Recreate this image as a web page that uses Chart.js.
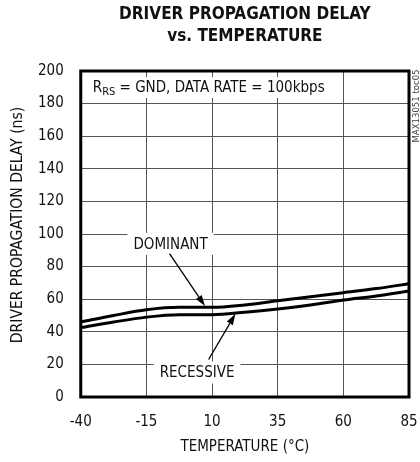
<!DOCTYPE html>
<html>
<head>
<meta charset="utf-8">
<script src="https://cdn.jsdelivr.net/npm/chart.js@4/dist/chart.umd.min.js"></script>
<style>
  html, body { margin: 0; padding: 0; background: #fff; }
  #wrap { width: 420px; height: 462px; position: relative; }
</style>
</head>
<body>
<div id="wrap"><canvas id="chart"></canvas></div>
<script>
const FONT = '"Liberation Sans Narrow", "DejaVu Sans Condensed", "Roboto", sans-serif';

const temps = [-40, -27.5, -15, -2.5, 10, 22.5, 35, 47.5, 60, 72.5, 85];
const dominant = [46, 50, 53.5, 55, 55, 56.5, 59, 61.5, 64, 66.5, 69.5];
const recessive = [42.5, 46, 49, 50.5, 50.5, 52, 54, 56.5, 59.5, 62, 65];

const xTicks = [-40, -15, 10, 35, 60, 85];
const yTicks = [0, 20, 40, 60, 80, 100, 120, 140, 160, 180, 200];

const titleLines = ["DRIVER PROPAGATION DELAY", "vs. TEMPERATURE"];
const xTitle = "TEMPERATURE (°C)";
const yTitle = "DRIVER PROPAGATION DELAY (ns)";

// callouts, in data units
const callouts = [
  { text: "DOMINANT", x: -5.8, y: 94, from: [-6.2, 88], to: [7.3, 55.8] },
  { text: "RECESSIVE", x: 4.3, y: 15, from: [8.7, 23], to: [18.9, 51] },
];

const toPoints = (ys) => ys.map((y, i) => ({ x: temps[i], y }));

function arrow(ctx, x1, y1, x2, y2) {
  const a = Math.atan2(y2 - y1, x2 - x1);
  const len = 11, half = 3.5;
  const bx = x2 - len * Math.cos(a), by = y2 - len * Math.sin(a);
  ctx.beginPath();
  ctx.moveTo(x1, y1);
  ctx.lineTo(bx, by);
  ctx.lineWidth = 1.3;
  ctx.strokeStyle = "#000";
  ctx.stroke();
  ctx.beginPath();
  ctx.moveTo(x2, y2);
  ctx.lineTo(bx - half * Math.sin(a), by + half * Math.cos(a));
  ctx.lineTo(bx + half * Math.sin(a), by - half * Math.cos(a));
  ctx.closePath();
  ctx.fillStyle = "#000";
  ctx.fill();
}

const decor = {
  id: "decor",
  afterDatasetsDraw(chart) {
    const { ctx, chartArea: a, scales } = chart;
    const sx = scales.x, sy = scales.y;
    const cx = (a.left + a.right) / 2;
    ctx.save();

    // frame
    ctx.lineWidth = 3;
    ctx.strokeStyle = "#000";
    ctx.strokeRect(a.left, a.top, a.right - a.left, a.bottom - a.top);

    // title
    ctx.fillStyle = "#111";
    ctx.textAlign = "center";
    ctx.textBaseline = "middle";
    ctx.font = "bold 17px " + FONT;
    ctx.fillText(titleLines[0], cx, 15);
    ctx.fillText(titleLines[1], cx, 37);

    // x axis title
    ctx.font = "15px " + FONT;
    ctx.fillText(xTitle, cx, 447);

    // condition note
    ctx.textAlign = "left";
    ctx.textBaseline = "alphabetic";
    const nx = a.left + 12, ny = a.top + 21;
    const rest = " = GND, DATA RATE = 100kbps";
    ctx.font = "15px " + FONT;
    const wR = ctx.measureText("R").width;
    ctx.font = "11px " + FONT;
    const wS = ctx.measureText("RS").width;
    ctx.font = "15px " + FONT;
    const wRest = ctx.measureText(rest).width;
    ctx.fillStyle = "#fff";
    ctx.fillRect(nx - 3, ny - 15, wR + wS + wRest + 6, 21);
    ctx.fillStyle = "#111";
    ctx.fillText("R", nx, ny);
    ctx.font = "11px " + FONT;
    ctx.fillText("RS", nx + wR, ny + 3);
    ctx.font = "15px " + FONT;
    ctx.fillText(rest, nx + wR + wS, ny);

    // callouts
    callouts.forEach((c) => {
      const px = sx.getPixelForValue(c.x), py = sy.getPixelForValue(c.y);
      ctx.font = "15px " + FONT;
      const w = ctx.measureText(c.text).width;
      ctx.fillStyle = "#fff";
      ctx.fillRect(px - w / 2 - 6, py - 11, w + 12, 22);
      ctx.fillStyle = "#111";
      ctx.textAlign = "center";
      ctx.textBaseline = "middle";
      ctx.fillText(c.text, px, py + 1);
      arrow(ctx,
        sx.getPixelForValue(c.from[0]), sy.getPixelForValue(c.from[1]),
        sx.getPixelForValue(c.to[0]), sy.getPixelForValue(c.to[1]));
    });
    ctx.restore();

    // y axis title
    ctx.save();
    ctx.translate(18, 225);
    ctx.rotate(-Math.PI / 2);
    ctx.font = "15.5px " + FONT;
    ctx.fillStyle = "#111";
    ctx.textAlign = "center";
    ctx.textBaseline = "middle";
    ctx.fillText(yTitle, 0, 0);
    ctx.restore();

    // figure id
    ctx.save();
    ctx.translate(chart.width - 3, a.top + 35);
    ctx.rotate(-Math.PI / 2);
    ctx.font = "9.5px " + FONT;
    ctx.fillStyle = "#444";
    ctx.textAlign = "center";
    ctx.textBaseline = "middle";
    ctx.fillText("MAX13051 toc05", 0, 0);
    ctx.restore();
  },
};

const lineStyle = {
  borderColor: "#000",
  backgroundColor: "transparent",
  borderWidth: 3,
  pointRadius: 0,
  cubicInterpolationMode: "monotone",
};

new Chart(document.getElementById("chart"), {
  type: "line",
  data: {
    datasets: [
      { label: "DOMINANT", data: toPoints(dominant), ...lineStyle },
      { label: "RECESSIVE", data: toPoints(recessive), ...lineStyle },
    ],
  },
  options: {
    animation: false,
    responsive: true,
    maintainAspectRatio: false,
    layout: { padding: { left: 21, right: 11, top: 71, bottom: 15 } },
    plugins: {
      legend: { display: false },
      tooltip: { enabled: false },
      title: { display: false },
    },
    scales: {
      x: {
        type: "linear",
        min: -40,
        max: 85,
        afterBuildTicks: (s) => { s.ticks = xTicks.map((v) => ({ value: v })); },
        afterFit: (s) => { s.paddingRight = 0; s.paddingLeft = 0; },
        ticks: { color: "#111", font: { family: FONT, size: 15 }, padding: 16 },
        grid: { color: "#555", lineWidth: 1, drawTicks: false },
        border: { display: false },
      },
      y: {
        type: "linear",
        min: 0,
        max: 200,
        afterBuildTicks: (s) => { s.ticks = yTicks.map((v) => ({ value: v })); },
        ticks: { color: "#111", font: { family: FONT, size: 15 }, padding: 17 },
        grid: { color: "#555", lineWidth: 1, drawTicks: false },
        border: { display: false },
      },
    },
  },
  plugins: [decor],
});
</script>
</body>
</html>
